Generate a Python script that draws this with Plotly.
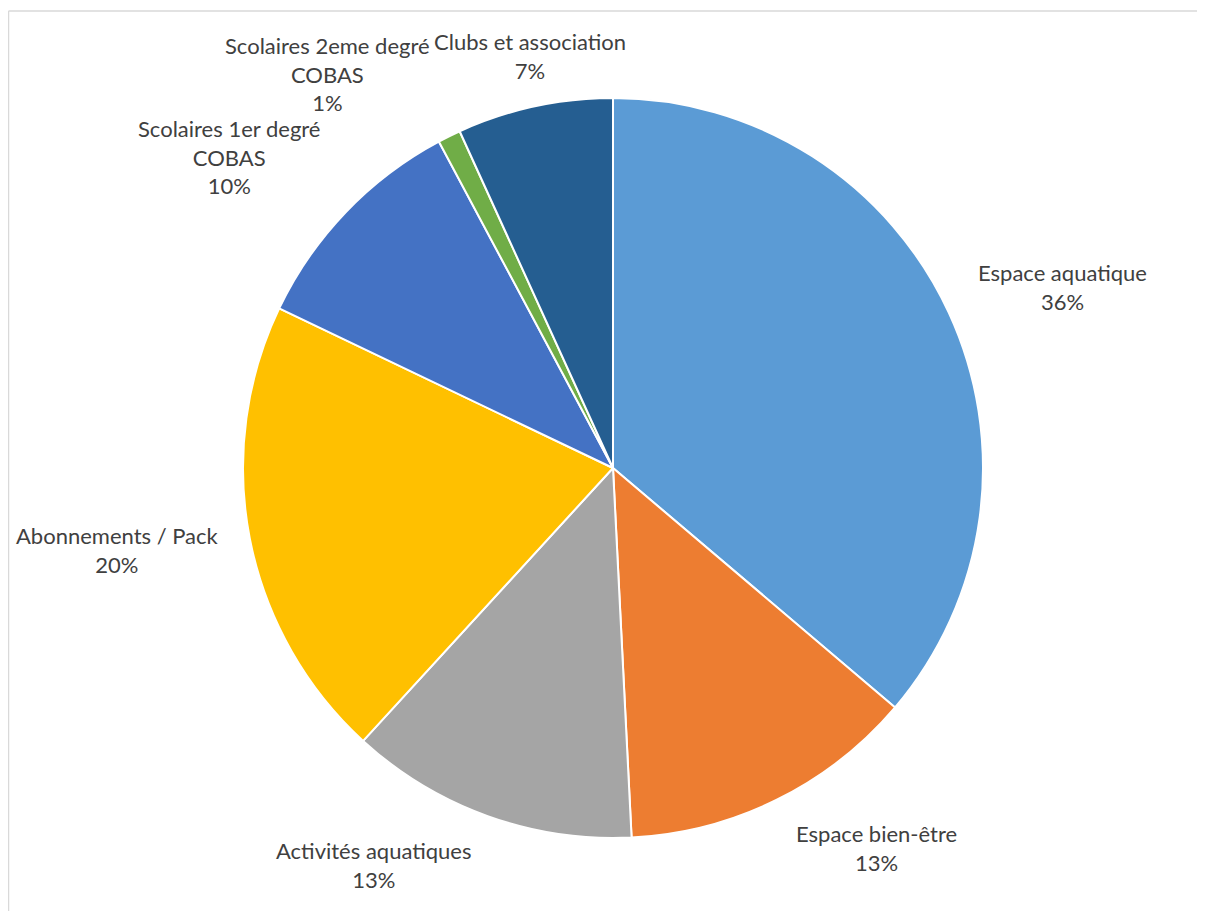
import math
import plotly.graph_objects as go

# slice data (clockwise from 12 o'clock)
labels = ["Espace aquatique", "Espace bien-être", "Activités aquatiques",
          "Abonnements / Pack", "Scolaires 1er degré<br>COBAS",
          "Scolaires 2eme degré<br>COBAS", "Clubs et association"]
values = [36.2, 13.0, 12.6, 20.3, 10.1, 1.0, 6.8]
colors = ["#5B9BD5", "#ED7D31", "#A5A5A5", "#FFC000",
          "#4472C4", "#70AD47", "#255E91"]

# figure geometry (px)
W, H = 1189, 903
CX, CY, R = 605, 460, 370
LABEL_GAP = 21
FONT_SIZE = 22
FONT = dict(family="Lato, 'Open Sans', sans-serif", size=FONT_SIZE, color="#404040")

fig = go.Figure(go.Pie(
    labels=labels,
    values=values,
    sort=False,
    direction="clockwise",
    rotation=0,
    marker=dict(colors=colors, line=dict(color="white", width=2)),
    textinfo="none",
    hoverinfo="label+percent",
    showlegend=False,
    domain=dict(x=[(CX - R) / W, (CX + R) / W],
                y=[(H - CY - R) / H, (H - CY + R) / H]),
))

# Excel-style "outside end" data labels
total = sum(values)
cum = 0.0
for lab, v in zip(labels, values):
    mid = (cum + v / 2) / total * 2 * math.pi
    cum += v
    dx, dy = math.sin(mid), -math.cos(mid)  # screen direction, y down
    px = CX + (R + LABEL_GAP) * dx
    py = CY + (R + LABEL_GAP) * dy
    text = f"{lab}<br>{round(v / total * 100)}%"
    n_lines = text.count("<br>") + 1
    half_h = n_lines * FONT_SIZE * 1.3 / 2 + 1
    if dx > 0.3:
        xanchor, xshift = "left", 8
    elif dx < -0.3:
        xanchor, xshift = "right", -8
    else:
        xanchor, xshift = "center", 0
    k = max(-1.0, min(1.0, dy / 0.75))
    fig.add_annotation(
        x=px / W, y=1 - py / H, xref="paper", yref="paper",
        text=text, showarrow=False,
        xanchor=xanchor, yanchor="middle",
        xshift=xshift, yshift=-half_h * k,
        align="center", font=FONT,
    )

# light chart-area border (left and top edges visible)
fig.add_shape(type="line", xref="paper", yref="paper",
              x0=0.5 / W, x1=0.5 / W, y0=0, y1=1 - 3 / H,
              line=dict(color="#D9D9D9", width=1.5))
fig.add_shape(type="line", xref="paper", yref="paper",
              x0=0.5 / W, x1=1, y0=1 - 3 / H, y1=1 - 3 / H,
              line=dict(color="#D9D9D9", width=1.5))

fig.update_layout(
    width=W, height=H,
    margin=dict(l=0, r=0, t=0, b=0),
    paper_bgcolor="white",
    plot_bgcolor="white",
    font=FONT,
)

fig.write_html("out.html")
